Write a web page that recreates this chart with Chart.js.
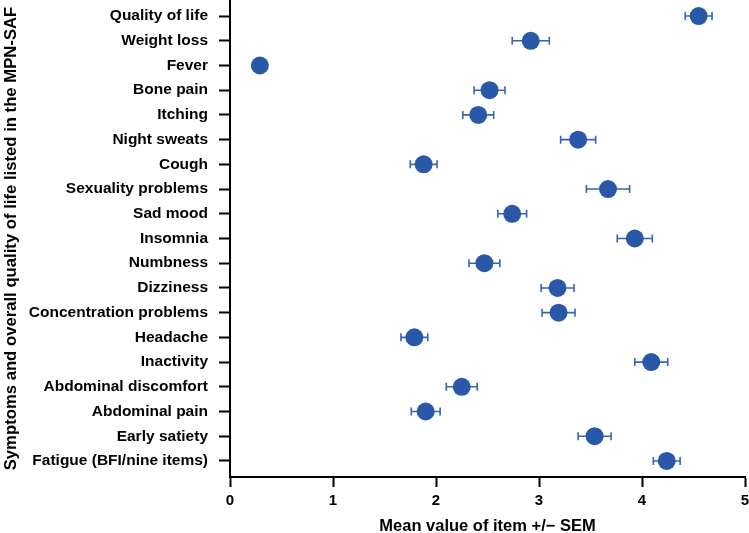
<!DOCTYPE html>
<html>
<head>
<meta charset="utf-8">
<script src="https://cdn.jsdelivr.net/npm/chart.js@4.4.1/dist/chart.umd.min.js"></script>
<style>
  html, body { margin: 0; padding: 0; background: #ffffff; }
  #wrap { width: 749px; height: 533px; position: relative; }
</style>
</head>
<body>
<div id="wrap"><canvas id="chart"></canvas></div>
<script>
// Items of the MPN-SAF, top to bottom
const categories = [
  'Quality of life',
  'Weight loss',
  'Fever',
  'Bone pain',
  'Itching',
  'Night sweats',
  'Cough',
  'Sexuality problems',
  'Sad mood',
  'Insomnia',
  'Numbness',
  'Dizziness',
  'Concentration problems',
  'Headache',
  'Inactivity',
  'Abdominal discomfort',
  'Abdominal pain',
  'Early satiety',
  'Fatigue (BFI/nine items)'
];

// Mean value of each item
const means = [4.55, 2.92, 0.29, 2.52, 2.41, 3.38, 1.88, 3.67, 2.74, 3.93,
               2.47, 3.18, 3.19, 1.79, 4.09, 2.25, 1.90, 3.54, 4.24];

// Standard error of the mean
const sems = [0.13, 0.18, 0.05, 0.15, 0.15, 0.17, 0.13, 0.21, 0.14, 0.17,
              0.15, 0.16, 0.16, 0.13, 0.16, 0.15, 0.14, 0.16, 0.13];

const xTicks = [0, 1, 2, 3, 4, 5];

const FONT = "'Liberation Sans', Arial, Helvetica, sans-serif";
const MARKER = '#2a58a8';
const WHISKER = '#3565b8';

/**
 * Draws horizontal SEM whiskers behind the markers
 */
const errorBarPlugin = {
  id: 'errorBars',
  beforeDatasetsDraw(chart) {
    const { ctx, scales } = chart;
    const cap = 4;
    ctx.save();
    ctx.strokeStyle = WHISKER;
    ctx.lineWidth = 1.6;
    means.forEach((m, i) => {
      const y = scales.y.getPixelForValue(i);
      const x1 = scales.x.getPixelForValue(m - sems[i]);
      const x2 = scales.x.getPixelForValue(m + sems[i]);
      ctx.beginPath();
      ctx.moveTo(x1, y);
      ctx.lineTo(x2, y);
      ctx.moveTo(x1, y - cap);
      ctx.lineTo(x1, y + cap);
      ctx.moveTo(x2, y - cap);
      ctx.lineTo(x2, y + cap);
      ctx.stroke();
    });
    ctx.restore();
  }
};

const ctx = document.getElementById('chart').getContext('2d');

new Chart(ctx, {
  type: 'scatter',
  data: {
    datasets: [{
      label: 'Mean',
      data: means.map((m, i) => ({ x: m, y: i })),
      backgroundColor: MARKER,
      borderColor: MARKER,
      borderWidth: 0,
      pointRadius: 9,
      pointHoverRadius: 9
    }]
  },
  options: {
    responsive: true,
    maintainAspectRatio: false,
    animation: false,
    layout: {
      autoPadding: false,
      padding: { left: 0, right: 4, top: 0, bottom: 0 }
    },
    plugins: {
      legend: { display: false },
      tooltip: { enabled: false }
    },
    scales: {
      x: {
        type: 'linear',
        min: 0,
        max: 5,
        afterBuildTicks: (scale) => {
          scale.ticks = xTicks.map(v => ({ value: v }));
        },
        afterFit: (scale) => {
          scale.height = 56;
          scale.paddingLeft = 0;
          scale.paddingRight = 0;
        },
        grid: {
          drawOnChartArea: false,
          drawTicks: true,
          tickLength: 10,
          tickWidth: 2,
          tickColor: '#000000'
        },
        border: { display: true, color: '#000000', width: 2 },
        ticks: {
          color: '#000000',
          padding: 5,
          font: { family: FONT, size: 15, weight: 'bold' }
        },
        title: {
          display: true,
          text: 'Mean value of item +/\u2212 SEM',
          color: '#000000',
          padding: { top: 2, bottom: -3 },
          font: { family: FONT, size: 16.5, weight: 'bold' }
        }
      },
      y: {
        type: 'linear',
        reverse: true,
        min: -0.65,
        max: 18.65,
        afterBuildTicks: (scale) => {
          scale.ticks = categories.map((c, i) => ({ value: i }));
        },
        afterFit: (scale) => {
          scale.width = 230;
          scale.paddingTop = 0;
          scale.paddingBottom = 0;
        },
        grid: {
          drawOnChartArea: false,
          drawTicks: true,
          tickLength: 11,
          tickWidth: 2,
          tickColor: '#000000'
        },
        border: { display: true, color: '#000000', width: 2 },
        ticks: {
          color: '#000000',
          padding: 11,
          font: { family: FONT, size: 15.5, weight: 'bold' },
          callback: function(value) {
            return categories[value];
          }
        },
        title: {
          display: true,
          text: 'Symptoms and overall quality of life listed in the MPN-SAF',
          color: '#000000',
          padding: { top: 1, bottom: 0 },
          font: { family: FONT, size: 16.7, weight: 'bold' }
        }
      }
    }
  },
  plugins: [errorBarPlugin]
});
</script>
</body>
</html>
